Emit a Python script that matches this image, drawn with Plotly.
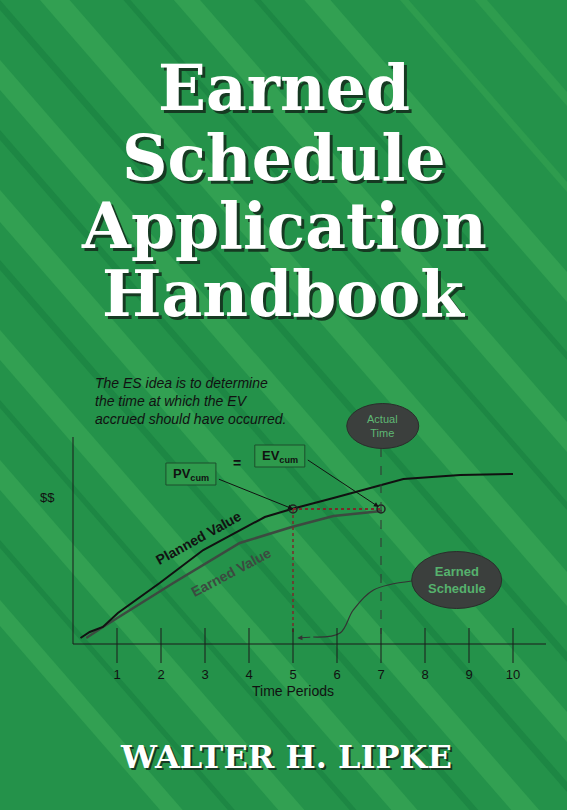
import plotly.graph_objects as go

# page is 567 x 810 px; chart coords: t = (px - 73) / 44, v = 644 - py
W, H = 567, 810
PX0, PXU, PY0 = 73, 44, 644

periods = [1, 2, 3, 4, 5, 6, 7, 8, 9, 10]
pv_t = [0.17, 0.38, 0.68, 1.02, 1.97, 2.96, 4.36, 4.97, 5.92, 7.51, 8.8, 10.0]
pv_v = [6, 12, 17, 31, 61, 94, 127, 135, 146, 165, 169, 170]
ev_t = [0.3, 0.68, 2.28, 3.79, 4.97, 5.92, 7.02]
ev_v = [6, 17, 61, 101, 117, 128, 133]
es_t = [7.7, 6.83, 6.37, 6.07, 5.46]
es_v = [63, 54, 34, 11, 7]
es_time, at_time, match_v = 5, 7, 135

title_lines = ["Earned", "Schedule", "Application", "Handbook"]
title_y = [88, 158, 226, 294]
author = "WALTER H. LIPKE"
idea = "The ES idea is to determine<br>the time at which the EV<br>accrued should have occurred."


def tx(px):
    return (px - PX0) / PXU


def vy(py):
    return PY0 - py


fig = go.Figure()

# background stripes (pixel space -> paper)
shapes = [dict(type="rect", xref="paper", yref="paper", x0=0, y0=0, x1=1, y1=1,
               fillcolor="#24924a", line_width=0, layer="below")]
slope = 1.15
bands = [(-560, 14, "#2e9c4e"), (-470, 10, "#2e9c4e"), (-380, 30, "#32a052"),
         (-300, 8, "#1d8744"), (-230, 30, "#32a052"), (-150, 8, "#1d8744"),
         (-80, 34, "#32a052"), (0, 10, "#1d8744"), (60, 30, "#32a052"),
         (130, 10, "#1d8744"), (190, 32, "#32a052"), (260, 10, "#1d8744"),
         (330, 30, "#32a052"), (400, 8, "#1d8744"), (460, 30, "#32a052"),
         (540, 8, "#1d8744"), (600, 26, "#32a052")]
for c, w, col in bands:
    # band between y = slope*x + c and y = slope*x + c + w (pixels, y down)
    pts = [(0, c), (W, slope * W + c), (W, slope * W + c + w), (0, c + w)]
    path = "M " + " L ".join(f"{x / W:.4f},{1 - y / H:.4f}" for x, y in pts) + " Z"
    shapes.append(dict(type="path", xref="paper", yref="paper", path=path,
                       fillcolor=col, line_width=0, layer="below"))

# axes lines
shapes.append(dict(type="line", x0=0, x1=tx(546), y0=0, y1=0, line=dict(color="#1a1a1a", width=1)))
shapes.append(dict(type="line", x0=0, x1=0, y0=0, y1=vy(437), line=dict(color="#1a1a1a", width=1)))
for p in periods:
    shapes.append(dict(type="line", x0=p, x1=p, y0=16, y1=-19, line=dict(color="#1a1a1a", width=1)))

# ellipses
for cx, cy, w, h in [(at_time + 0.04, 218, 72, 45), (8.72, 64, 90, 57)]:
    shapes.append(dict(type="circle", x0=cx - w / 2 / PXU, x1=cx + w / 2 / PXU,
                       y0=cy - h / 2, y1=cy + h / 2, fillcolor="#3b3f3d",
                       line=dict(color="#2a2d2b", width=1)))

# boxes
for cx, cy in [(2.68, 170), (4.7, 188)]:
    shapes.append(dict(type="rect", x0=cx - 25 / PXU, x1=cx + 25 / PXU, y0=cy - 11, y1=cy + 11,
                       fillcolor="#2e9a4c", line=dict(color="#1c4f2c", width=1)))

# dashed actual time line
shapes.append(dict(type="line", x0=at_time, x1=at_time, y0=196, y1=10,
                   line=dict(color="#333", width=1, dash="dash")))
fig.update_layout(shapes=shapes)

fig.add_trace(go.Scatter(x=ev_t, y=ev_v, mode="lines", line=dict(color="#3c4a40", width=2.5)))
fig.add_trace(go.Scatter(x=pv_t, y=pv_v, mode="lines", line=dict(color="#111", width=2)))
fig.add_trace(go.Scatter(x=[es_time, at_time], y=[match_v, match_v], mode="lines",
                         line=dict(color="#7a2a2a", width=2, dash="dot")))
fig.add_trace(go.Scatter(x=[es_time, es_time], y=[match_v, 12], mode="lines",
                         line=dict(color="#7a2a2a", width=1.5, dash="dot")))
fig.add_trace(go.Scatter(x=[es_time, at_time], y=[match_v, match_v], mode="markers",
                         marker=dict(size=8, color="rgba(0,0,0,0)", line=dict(color="#222", width=1.5))))
fig.add_trace(go.Scatter(x=es_t, y=es_v, mode="lines", line=dict(color="#333", width=1.2, shape="spline")))
fig.add_trace(go.Scatter(x=periods, y=[-32] * len(periods), mode="text",
                         text=[str(p) for p in periods],
                         textfont=dict(family="Liberation Sans", size=13, color="#111")))

ann = []
arr = dict(showarrow=True, arrowhead=2, arrowsize=1, arrowwidth=1, axref="x", ayref="y")
ann.append(dict(x=es_time, y=match_v, ax=2.68 + 25 / PXU, ay=166, arrowcolor="#111", **arr))
ann.append(dict(x=at_time - 0.05, y=match_v + 2, ax=4.7 + 25 / PXU, ay=186, arrowcolor="#111", **arr))
ann.append(dict(x=es_time, y=4, ax=es_time, ay=14, arrowcolor="#7a2a2a", **arr))
ann.append(dict(x=at_time, y=6, ax=at_time, ay=14, arrowcolor="#333", **arr))
ann.append(dict(x=5.1, y=6, ax=5.46, ay=7, arrowcolor="#333", **arr))

def txt(x, y, s, size, color, **kw):
    d = dict(x=x, y=y, text=s, showarrow=False,
             font=dict(family="Liberation Sans", size=size, color=color))
    d.update(kw)
    ann.append(d)

txt(2.68, 170, "<b>PV<sub>cum</sub></b>", 13, "#111")
txt(4.7, 188, "<b>EV<sub>cum</sub></b>", 13, "#111")
txt(3.72, 181, "<b>=</b>", 14, "#111")
txt(at_time + 0.04, 218, "Actual<br>Time", 11, "#5fb874")
txt(8.72, 64, "<b>Earned<br>Schedule</b>", 13, "#56b26d")
txt(2.85, 106, "<b>Planned Value</b>", 14, "#111", textangle=-29)
txt(3.6, 72, "<b>Earned Value</b>", 14, "#3c4a40", textangle=-28)
txt(tx(47), vy(497), "$$", 13, "#111")
txt(es_time, vy(691), "Time Periods", 14, "#111")
txt(tx(93), vy(373), "<i>" + idea + "</i>", 14, "#111", xanchor="left", yanchor="top", align="left")

for line, py in zip(title_lines, title_y):
    for dx, dy, col in [(3, 3, "#163a22"), (0, 0, "white")]:
        ann.append(dict(x=0.5 + dx / W, y=1 - (py + dy) / H, xref="paper", yref="paper",
                        xanchor="center", yanchor="middle",
                        text="<b>" + line + "</b>", showarrow=False,
                        font=dict(family="DejaVu Serif", size=63, color=col)))
for dx, dy, col in [(2, 2, "#163a22"), (0, 0, "white")]:
    ann.append(dict(x=(286 + dx) / W, y=1 - (757 + dy) / H, xref="paper", yref="paper",
                    xanchor="center", yanchor="middle",
                    text="<b>" + author + "</b>", showarrow=False,
                    font=dict(family="DejaVu Serif", size=32, color=col)))

fig.update_layout(
    annotations=ann, width=W, height=H, showlegend=False,
    margin=dict(l=0, r=0, t=0, b=0),
    paper_bgcolor="#24924a", plot_bgcolor="rgba(0,0,0,0)",
    xaxis=dict(range=[tx(0), tx(W)], visible=False, fixedrange=True),
    yaxis=dict(range=[vy(H), vy(0)], visible=False, fixedrange=True),
)

fig.write_html("out.html", config={"displayModeBar": False},
               post_script="document.body.style.margin='0';")
